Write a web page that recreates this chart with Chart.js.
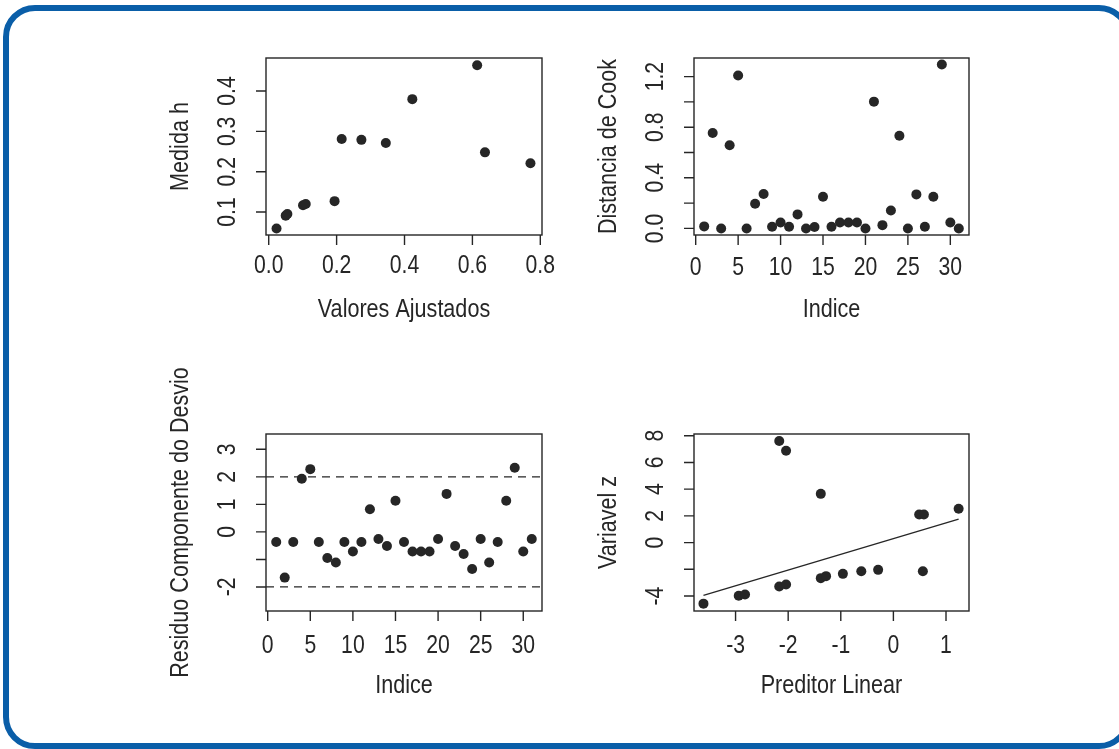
<!DOCTYPE html>
<html>
<head>
<meta charset="utf-8">
<script src="https://cdn.jsdelivr.net/npm/chart.js@4/dist/chart.umd.min.js"></script>
<style>
  html, body { margin: 0; padding: 0; background: #fff; overflow: hidden; }
  body { width: 1119px; height: 749px; position: relative; }
  .frame {
    position: absolute; left: 3px; top: 5px; width: 1128px; height: 744px;
    box-sizing: border-box; border: 6px solid #0a5ea8; border-radius: 32px;
  }
  canvas { position: absolute; }
</style>
</head>
<body>
<div class="frame"></div>
<canvas id="leverageChart"></canvas>
<canvas id="cookChart"></canvas>
<canvas id="residualChart"></canvas>
<canvas id="linkChart"></canvas>
<script>
// painel 1: medida h x valores ajustados
const fittedValues = [0.023, 0.050, 0.055, 0.101, 0.109, 0.194, 0.215, 0.273, 0.345, 0.423, 0.614, 0.637, 0.771];
const leverageH = [0.059, 0.091, 0.095, 0.117, 0.120, 0.127, 0.281, 0.279, 0.271, 0.380, 0.464, 0.248, 0.221];

// paineis 2 e 3: indice das observacoes
const obsIndex = [1, 2, 3, 4, 5, 6, 7, 8, 9, 10, 11, 12, 13, 14, 15, 16, 17, 18, 19, 20, 21, 22, 23, 24, 25, 26, 27, 28, 29, 30, 31];
const cookDistance = [0.016, 0.754, 0.0, 0.657, 1.208, 0.0, 0.195, 0.272, 0.013, 0.047, 0.013, 0.111, 0.0, 0.011, 0.251, 0.013,
  0.047, 0.047, 0.047, 0.0, 1.002, 0.026, 0.142, 0.733, 0.0, 0.269, 0.013, 0.251, 1.295, 0.047, 0.0];
const devianceResidual = [-0.37, -1.66, -0.37, 1.93, 2.28, -0.37, -0.95, -1.11, -0.37, -0.71, -0.37, 0.82, -0.26, -0.51, 1.13, -0.37,
  -0.71, -0.71, -0.71, -0.26, 1.38, -0.51, -0.80, -1.35, -0.26, -1.11, -0.37, 1.13, 2.33, -0.71, -0.26];
const residualBands = [-2, 2];

// painel 4: variavel z x preditor linear
const linearPredictor = [-3.61, -2.94, -2.82, -2.17, -2.04, -2.17, -2.04, -1.38, -1.38, -1.28, -0.96, -0.61, -0.29, 0.49, 0.58, 0.56, 1.24];
const variableZ = [-4.57, -3.98, -3.88, 7.60, 6.88, -3.28, -3.13, 3.65, -2.66, -2.51, -2.34, -2.14, -2.04, 2.11, 2.11, -2.14, 2.53];
const lineX = [-3.61, 1.24];
const lineZ = [-3.95, 1.76];

// eixos
const fittedTicks = [0, 0.2, 0.4, 0.6, 0.8];
const fittedLabels = ["0.0", "0.2", "0.4", "0.6", "0.8"];
const leverageTicks = [0.1, 0.2, 0.3, 0.4];
const leverageLabels = ["0.1", "0.2", "0.3", "0.4"];
const indexTicks = [0, 5, 10, 15, 20, 25, 30];
const indexLabels = ["0", "5", "10", "15", "20", "25", "30"];
const cookTicks = [0, 0.2, 0.4, 0.6, 0.8, 1.0, 1.2];
const cookLabels = ["0.0", "", "0.4", "", "0.8", "", "1.2"];
const residualTicks = [-2, -1, 0, 1, 2, 3];
const residualLabels = ["-2", "", "0", "1", "2", "3"];
const predictorTicks = [-3, -2, -1, 0, 1];
const predictorLabels = ["-3", "-2", "-1", "0", "1"];
const zTicks = [-4, -2, 0, 2, 4, 6, 8];
const zLabels = ["-4", "", "0", "2", "4", "6", "8"];

const INK = "#262626";
const FONT = "'Liberation Sans', Arial, sans-serif";
const NARROW = 0.83; // a fonte do original e condensada
const TICK_SIZE = 25.5;
const TITLE_SIZE = 26;
const Y_AXIS_W = 116;
const X_AXIS_H = 95;

Chart.defaults.font.family = FONT;
Chart.defaults.color = INK;

const measureCtx = document.createElement("canvas").getContext("2d");
function yTickPad(labels) {
  measureCtx.font = TICK_SIZE + "px " + FONT;
  const widest = Math.max(...labels.map(l => measureCtx.measureText(l).width));
  return 38 - widest / 2;
}

// comprime o texto na horizontal, como uma fonte estreita
const narrowText = {
  id: "narrowText",
  beforeInit(chart) {
    const ctx = chart.ctx;
    const fill = ctx.fillText.bind(ctx);
    ctx.fillText = (text, x, y, maxWidth) => {
      const w = ctx.measureText(text).width * NARROW;
      fill(text, x, y, maxWidth === undefined ? w : Math.min(w, maxWidth));
    };
  }
};

// caixa, marcas de escala e titulo lateral ao estilo do R
const rAxes = {
  id: "rAxes",
  afterDraw(chart, args, opts) {
    const { ctx, chartArea: a, scales } = chart;
    ctx.save();
    ctx.strokeStyle = INK;
    ctx.lineWidth = 1.4;
    ctx.strokeRect(a.left, a.top, a.right - a.left, a.bottom - a.top);
    ctx.beginPath();
    scales.x.ticks.forEach(t => {
      const px = scales.x.getPixelForValue(t.value);
      ctx.moveTo(px, a.bottom);
      ctx.lineTo(px, a.bottom + 10);
    });
    scales.y.ticks.forEach(t => {
      const py = scales.y.getPixelForValue(t.value);
      ctx.moveTo(a.left, py);
      ctx.lineTo(a.left - 10, py);
    });
    ctx.stroke();
    if (opts.sideTitle) {
      ctx.translate(a.left - 85, (a.top + a.bottom) / 2);
      ctx.rotate(-Math.PI / 2);
      ctx.fillStyle = INK;
      ctx.font = TITLE_SIZE + "px " + FONT;
      ctx.textAlign = "center";
      ctx.textBaseline = "middle";
      ctx.fillText(opts.sideTitle, 0, 0);
    }
    ctx.restore();
  }
};

function xScale(min, max, ticks, labels, title, pad) {
  return {
    type: "linear", position: "bottom", min, max,
    grid: { display: false, drawTicks: false },
    border: { display: false },
    afterBuildTicks: s => { s.ticks = ticks.map(v => ({ value: v })); },
    afterFit: s => {
      s.height = X_AXIS_H;
      s.paddingLeft = 0;
      s.paddingRight = 0;
    },
    ticks: { autoSkip: false, maxRotation: 0, padding: pad, font: { size: TICK_SIZE }, callback: (v, i) => labels[i] },
    title: { display: true, text: title, font: { size: TITLE_SIZE }, padding: { top: 0, bottom: 5 } }
  };
}

function yScale(min, max, ticks, labels, title) {
  return {
    type: "linear", position: "left", min, max,
    grid: { display: false, drawTicks: false },
    border: { display: false },
    afterBuildTicks: s => { s.ticks = ticks.map(v => ({ value: v })); },
    afterFit: s => {
      s.width = Y_AXIS_W;
      s.paddingTop = 0;
      s.paddingBottom = 0;
    },
    ticks: {
      autoSkip: false, minRotation: 90, maxRotation: 90, crossAlign: "center",
      padding: yTickPad(labels), font: { size: TICK_SIZE }, callback: (v, i) => labels[i]
    },
    title: { display: !!title, text: title || "", font: { size: TITLE_SIZE }, padding: { top: 15, bottom: 0 } }
  };
}

function points(xs, ys) {
  return xs.map((x, i) => ({ x, y: ys[i] }));
}

function pointSet(xs, ys) {
  return { data: points(xs, ys), pointStyle: "circle", pointRadius: 5, pointBackgroundColor: INK, pointBorderWidth: 0 };
}

function lineSet(xs, ys, dash) {
  return { data: points(xs, ys), showLine: true, pointRadius: 0, borderColor: INK, borderWidth: 1.3, borderDash: dash || [] };
}

function makePanel(id, box, padTop, datasets, scales, sideTitle) {
  const canvas = document.getElementById(id);
  canvas.width = Y_AXIS_W + box.w + 18;
  canvas.height = padTop + box.h + X_AXIS_H;
  canvas.style.left = (box.x - Y_AXIS_W) + "px";
  canvas.style.top = (box.y - padTop) + "px";
  return new Chart(canvas, {
    type: "scatter",
    data: { datasets },
    options: {
      responsive: false,
      animation: false,
      layout: { padding: { left: 0, top: padTop, right: 18, bottom: 0 } },
      scales,
      plugins: { legend: { display: false }, tooltip: { enabled: false }, rAxes: { sideTitle } }
    },
    plugins: [narrowText, rAxes]
  });
}

makePanel("leverageChart", { x: 266, y: 58, w: 276, h: 177 }, 28,
  [pointSet(fittedValues, leverageH)],
  {
    x: xScale(-0.008, 0.805, fittedTicks, fittedLabels, "Valores Ajustados", 16),
    y: yScale(0.043, 0.482, leverageTicks, leverageLabels, "Medida h")
  });

makePanel("cookChart", { x: 694, y: 58, w: 275, h: 177 }, 28,
  [pointSet(obsIndex, cookDistance)],
  {
    x: xScale(-0.2, 32.2, indexTicks, indexLabels, "Indice", 18),
    y: yScale(-0.052, 1.347, cookTicks, cookLabels, "Distancia de Cook")
  });

makePanel("residualChart", { x: 266, y: 434, w: 276, h: 177 }, 100,
  [
    pointSet(obsIndex, devianceResidual),
    lineSet([-0.2, 32.2], [residualBands[1], residualBands[1]], [8, 6]),
    lineSet([-0.2, 32.2], [residualBands[0], residualBands[0]], [8, 6])
  ],
  {
    x: xScale(-0.2, 32.2, indexTicks, indexLabels, "Indice", 20),
    y: yScale(-2.873, 3.556, residualTicks, residualLabels, null)
  },
  "Residuo Componente do Desvio");

makePanel("linkChart", { x: 694, y: 434, w: 275, h: 177 }, 28,
  [pointSet(linearPredictor, variableZ), lineSet(lineX, lineZ)],
  {
    x: xScale(-3.79, 1.437, predictorTicks, predictorLabels, "Preditor Linear", 20),
    y: yScale(-5.12, 8.13, zTicks, zLabels, "Variavel z")
  });
</script>
</body>
</html>
